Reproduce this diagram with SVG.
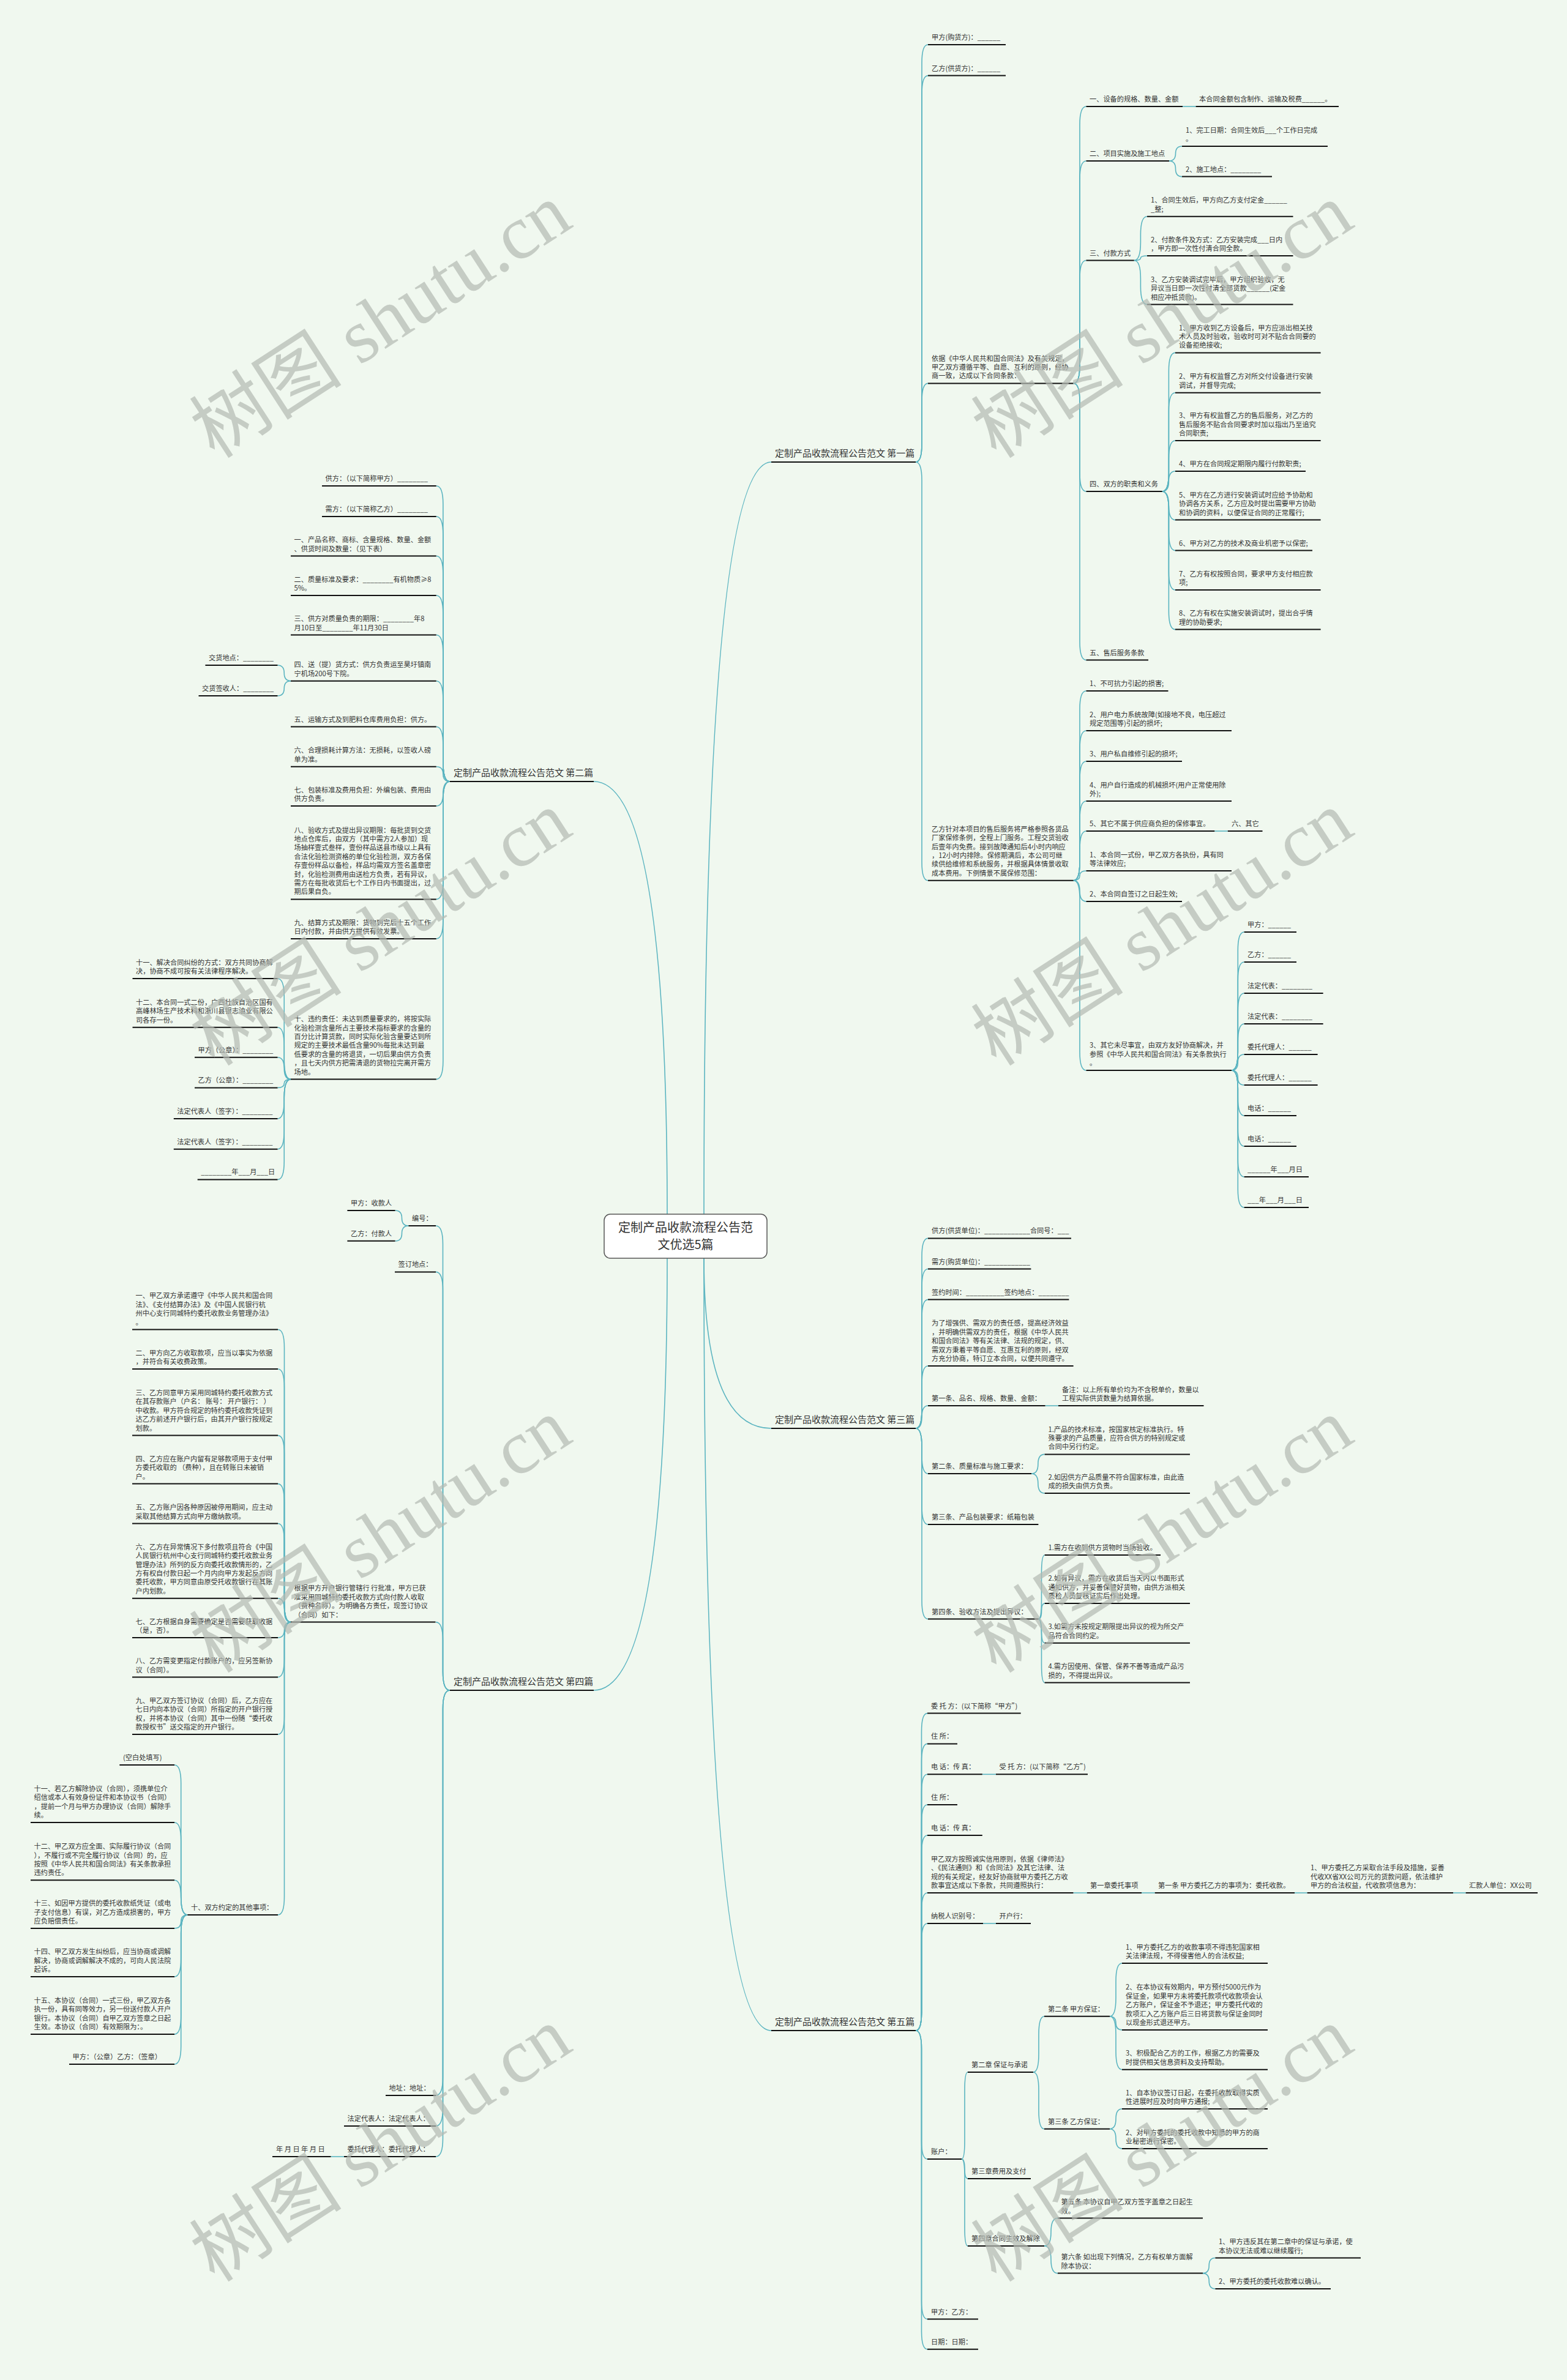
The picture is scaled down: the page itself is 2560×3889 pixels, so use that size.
<svg xmlns="http://www.w3.org/2000/svg" width="2560" height="3889" viewBox="0 0 2560 3889">
<style>
.t{font-family:"Noto Sans CJK SC","Noto Sans",sans-serif;font-size:11.2px;fill:#333}
.l1{font-family:"Noto Sans CJK SC","Noto Sans",sans-serif;font-size:15px;fill:#333}
.ct{font-family:"Noto Sans CJK SC","Noto Sans",sans-serif;font-size:20px;fill:#333}
.u{stroke:#111;stroke-width:2;fill:none}
.c{stroke:#5ab4c0;stroke-width:1.6;fill:none}
.wm{font-family:"Liberation Serif","Noto Sans CJK SC",serif;font-size:125px;fill:#b4bab3;opacity:0.7}
</style>
<rect x="0" y="0" width="2560" height="3889" fill="#f0f8ef"/>
<g id="connectors">
<path class="c" d="M1150 1984 Q1150 755 1260 755"/>
<path class="c" d="M1090 1984 Q1090 1277 970 1277"/>
<path class="c" d="M1150 2056 Q1150 2334 1260 2334"/>
<path class="c" d="M1090 2056 Q1090 2762 970 2762"/>
<path class="c" d="M1150 2056 Q1150 3318 1260 3318"/>
<path class="c" d="M1496 755 Q1506 755 1506 725 L1506 103 Q1506 73 1516 73"/>
<path class="c" d="M1496 755 Q1506 755 1506 725 L1506 153.6 Q1506 123.6 1516 123.6"/>
<path class="c" d="M1496 755 Q1506 755 1506 725 L1506 656.4 Q1506 626.4 1516 626.4"/>
<path class="c" d="M1496 755 Q1506 755 1506 785 L1506 1408.7 Q1506 1438.7 1516 1438.7"/>
<path class="c" d="M1753.6 626.4 Q1764 626.4 1764 596.4 L1764 204 Q1764 174 1774.5 174"/>
<path class="c" d="M1753.6 626.4 Q1764 626.4 1764 596.4 L1764 293 Q1764 263 1774.5 263"/>
<path class="c" d="M1753.6 626.4 Q1764 626.4 1764 596.4 L1764 455.5 Q1764 425.5 1774.5 425.5"/>
<path class="c" d="M1753.6 626.4 Q1764 626.4 1764 656.4 L1764 773 Q1764 803 1774.5 803"/>
<path class="c" d="M1753.6 626.4 Q1764 626.4 1764 656.4 L1764 1048.6 Q1764 1078.6 1774.5 1078.6"/>
<path class="c" d="M1932 174 H1953.6"/>
<path class="c" d="M1910 263 Q1920.5 263 1920.5 251 Q1920.5 239 1931 239"/>
<path class="c" d="M1910 263 Q1920.5 263 1920.5 275.8 Q1920.5 288.6 1931 288.6"/>
<path class="c" d="M1852.7 425.5 Q1863.4 425.5 1863.4 395.5 L1863.4 383.8 Q1863.4 353.8 1874 353.8"/>
<path class="c" d="M1852.7 425.5 Q1863.4 425.5 1863.4 421.75 Q1863.4 418 1874 418"/>
<path class="c" d="M1852.7 425.5 Q1863.4 425.5 1863.4 455.5 L1863.4 467.5 Q1863.4 497.5 1874 497.5"/>
<path class="c" d="M1898.7 803 Q1909.4 803 1909.4 773 L1909.4 606.4 Q1909.4 576.4 1920 576.4"/>
<path class="c" d="M1898.7 803 Q1909.4 803 1909.4 773 L1909.4 671.8 Q1909.4 641.8 1920 641.8"/>
<path class="c" d="M1898.7 803 Q1909.4 803 1909.4 773 L1909.4 750 Q1909.4 720 1920 720"/>
<path class="c" d="M1898.7 803 Q1909.4 803 1909.4 786.5 Q1909.4 770 1920 770"/>
<path class="c" d="M1898.7 803 Q1909.4 803 1909.4 826.3 Q1909.4 849.6 1920 849.6"/>
<path class="c" d="M1898.7 803 Q1909.4 803 1909.4 833 L1909.4 869.6 Q1909.4 899.6 1920 899.6"/>
<path class="c" d="M1898.7 803 Q1909.4 803 1909.4 833 L1909.4 934 Q1909.4 964 1920 964"/>
<path class="c" d="M1898.7 803 Q1909.4 803 1909.4 833 L1909.4 998.6 Q1909.4 1028.6 1920 1028.6"/>
<path class="c" d="M1753.6 1438.7 Q1764 1438.7 1764 1408.7 L1764 1159 Q1764 1129 1774.5 1129"/>
<path class="c" d="M1753.6 1438.7 Q1764 1438.7 1764 1408.7 L1764 1224 Q1764 1194 1774.5 1194"/>
<path class="c" d="M1753.6 1438.7 Q1764 1438.7 1764 1408.7 L1764 1274 Q1764 1244 1774.5 1244"/>
<path class="c" d="M1753.6 1438.7 Q1764 1438.7 1764 1408.7 L1764 1339 Q1764 1309 1774.5 1309"/>
<path class="c" d="M1753.6 1438.7 Q1764 1438.7 1764 1408.7 L1764 1388 Q1764 1358 1774.5 1358"/>
<path class="c" d="M1753.6 1438.7 Q1764 1438.7 1764 1430.85 Q1764 1423 1774.5 1423"/>
<path class="c" d="M1753.6 1438.7 Q1764 1438.7 1764 1455.85 Q1764 1473 1774.5 1473"/>
<path class="c" d="M1753.6 1438.7 Q1764 1438.7 1764 1468.7 L1764 1719 Q1764 1749 1774.5 1749"/>
<path class="c" d="M1984.3 1358 H2005.8"/>
<path class="c" d="M2012 1749 Q2022.3 1749 2022.3 1719 L2022.3 1553 Q2022.3 1523 2032.6 1523"/>
<path class="c" d="M2012 1749 Q2022.3 1749 2022.3 1719 L2022.3 1602 Q2022.3 1572 2032.6 1572"/>
<path class="c" d="M2012 1749 Q2022.3 1749 2022.3 1719 L2022.3 1653 Q2022.3 1623 2032.6 1623"/>
<path class="c" d="M2012 1749 Q2022.3 1749 2022.3 1719 L2022.3 1703 Q2022.3 1673 2032.6 1673"/>
<path class="c" d="M2012 1749 Q2022.3 1749 2022.3 1736 Q2022.3 1723 2032.6 1723"/>
<path class="c" d="M2012 1749 Q2022.3 1749 2022.3 1761 Q2022.3 1773 2032.6 1773"/>
<path class="c" d="M2012 1749 Q2022.3 1749 2022.3 1779 L2022.3 1793 Q2022.3 1823 2032.6 1823"/>
<path class="c" d="M2012 1749 Q2022.3 1749 2022.3 1779 L2022.3 1843 Q2022.3 1873 2032.6 1873"/>
<path class="c" d="M2012 1749 Q2022.3 1749 2022.3 1779 L2022.3 1893 Q2022.3 1923 2032.6 1923"/>
<path class="c" d="M2012 1749 Q2022.3 1749 2022.3 1779 L2022.3 1943 Q2022.3 1973 2032.6 1973"/>
<path class="c" d="M735 1277 Q723.85 1277 723.85 1247 L723.85 824 Q723.85 794 712.7 794"/>
<path class="c" d="M735 1277 Q723.85 1277 723.85 1247 L723.85 874 Q723.85 844 712.7 844"/>
<path class="c" d="M735 1277 Q723.85 1277 723.85 1247 L723.85 938.5 Q723.85 908.5 712.7 908.5"/>
<path class="c" d="M735 1277 Q723.85 1277 723.85 1247 L723.85 1003 Q723.85 973 712.7 973"/>
<path class="c" d="M735 1277 Q723.85 1277 723.85 1247 L723.85 1067.5 Q723.85 1037.5 712.7 1037.5"/>
<path class="c" d="M735 1277 Q723.85 1277 723.85 1247 L723.85 1142.7 Q723.85 1112.7 712.7 1112.7"/>
<path class="c" d="M735 1277 Q723.85 1277 723.85 1247 L723.85 1217.5 Q723.85 1187.5 712.7 1187.5"/>
<path class="c" d="M735 1277 Q723.85 1277 723.85 1264.85 Q723.85 1252.7 712.7 1252.7"/>
<path class="c" d="M735 1277 Q723.85 1277 723.85 1297 Q723.85 1317 712.7 1317"/>
<path class="c" d="M735 1277 Q723.85 1277 723.85 1307 L723.85 1439.4 Q723.85 1469.4 712.7 1469.4"/>
<path class="c" d="M735 1277 Q723.85 1277 723.85 1307 L723.85 1504 Q723.85 1534 712.7 1534"/>
<path class="c" d="M735 1277 Q723.85 1277 723.85 1307 L723.85 1733.6 Q723.85 1763.6 712.7 1763.6"/>
<path class="c" d="M475 1112.7 Q464.25 1112.7 464.25 1099.85 Q464.25 1087 453.5 1087"/>
<path class="c" d="M475 1112.7 Q464.25 1112.7 464.25 1124.85 Q464.25 1137 453.5 1137"/>
<path class="c" d="M475 1763.6 Q464.25 1763.6 464.25 1733.6 L464.25 1629 Q464.25 1599 453.5 1599"/>
<path class="c" d="M475 1763.6 Q464.25 1763.6 464.25 1733.6 L464.25 1708.7 Q464.25 1678.7 453.5 1678.7"/>
<path class="c" d="M475 1763.6 Q464.25 1763.6 464.25 1745.65 Q464.25 1727.7 453.5 1727.7"/>
<path class="c" d="M475 1763.6 Q464.25 1763.6 464.25 1770.5 Q464.25 1777.4 453.5 1777.4"/>
<path class="c" d="M475 1763.6 Q464.25 1763.6 464.25 1793.6 L464.25 1798 Q464.25 1828 453.5 1828"/>
<path class="c" d="M475 1763.6 Q464.25 1763.6 464.25 1793.6 L464.25 1847.7 Q464.25 1877.7 453.5 1877.7"/>
<path class="c" d="M475 1763.6 Q464.25 1763.6 464.25 1793.6 L464.25 1897.4 Q464.25 1927.4 453.5 1927.4"/>
<path class="c" d="M1496 2334 Q1506 2334 1506 2304 L1506 2053.4 Q1506 2023.4 1516 2023.4"/>
<path class="c" d="M1496 2334 Q1506 2334 1506 2304 L1506 2103.5 Q1506 2073.5 1516 2073.5"/>
<path class="c" d="M1496 2334 Q1506 2334 1506 2304 L1506 2153.6 Q1506 2123.6 1516 2123.6"/>
<path class="c" d="M1496 2334 Q1506 2334 1506 2304 L1506 2262 Q1506 2232 1516 2232"/>
<path class="c" d="M1496 2334 Q1506 2334 1506 2315.5 Q1506 2297 1516 2297"/>
<path class="c" d="M1496 2334 Q1506 2334 1506 2364 L1506 2378 Q1506 2408 1516 2408"/>
<path class="c" d="M1496 2334 Q1506 2334 1506 2364 L1506 2461 Q1506 2491 1516 2491"/>
<path class="c" d="M1496 2334 Q1506 2334 1506 2364 L1506 2615.5 Q1506 2645.5 1516 2645.5"/>
<path class="c" d="M1707.6 2297 H1729"/>
<path class="c" d="M1685 2408 Q1695.85 2408 1695.85 2392.2 Q1695.85 2376.4 1706.7 2376.4"/>
<path class="c" d="M1685 2408 Q1695.85 2408 1695.85 2424 Q1695.85 2440 1706.7 2440"/>
<path class="c" d="M1696.4 2645.5 Q1701.5 2645.5 1701.5 2615.5 L1701.5 2571 Q1701.5 2541 1706.7 2541"/>
<path class="c" d="M1696.4 2645.5 Q1701.5 2645.5 1701.5 2632.75 Q1701.5 2620 1706.7 2620"/>
<path class="c" d="M1696.4 2645.5 Q1701.5 2645.5 1701.5 2665.1 Q1701.5 2684.7 1706.7 2684.7"/>
<path class="c" d="M1696.4 2645.5 Q1701.5 2645.5 1701.5 2675.5 L1701.5 2719.6 Q1701.5 2749.6 1706.7 2749.6"/>
<path class="c" d="M735 2762 Q723.5 2762 723.5 2732 L723.5 2033 Q723.5 2003 712 2003"/>
<path class="c" d="M735 2762 Q723.5 2762 723.5 2732 L723.5 2108.4 Q723.5 2078.4 712 2078.4"/>
<path class="c" d="M735 2762 Q723.5 2762 723.5 2732 L723.5 2680.6 Q723.5 2650.6 712 2650.6"/>
<path class="c" d="M735 2762 Q723.5 2762 723.5 2792 L723.5 3394 Q723.5 3424 712 3424"/>
<path class="c" d="M735 2762 Q723.5 2762 723.5 2792 L723.5 3444 Q723.5 3474 712 3474"/>
<path class="c" d="M735 2762 Q723.5 2762 723.5 2792 L723.5 3494 Q723.5 3524 712 3524"/>
<path class="c" d="M667.4 2003 Q656.5 2003 656.5 1990.5 Q656.5 1978 645.6 1978"/>
<path class="c" d="M667.4 2003 Q656.5 2003 656.5 2015.4 Q656.5 2027.8 645.6 2027.8"/>
<path class="c" d="M475 2650.6 Q464.5 2650.6 464.5 2620.6 L464.5 2202.5 Q464.5 2172.5 454 2172.5"/>
<path class="c" d="M475 2650.6 Q464.5 2650.6 464.5 2620.6 L464.5 2267 Q464.5 2237 454 2237"/>
<path class="c" d="M475 2650.6 Q464.5 2650.6 464.5 2620.6 L464.5 2375.6 Q464.5 2345.6 454 2345.6"/>
<path class="c" d="M475 2650.6 Q464.5 2650.6 464.5 2620.6 L464.5 2454.6 Q464.5 2424.6 454 2424.6"/>
<path class="c" d="M475 2650.6 Q464.5 2650.6 464.5 2620.6 L464.5 2519.5 Q464.5 2489.5 454 2489.5"/>
<path class="c" d="M475 2650.6 Q464.5 2650.6 464.5 2631.15 Q464.5 2611.7 454 2611.7"/>
<path class="c" d="M475 2650.6 Q464.5 2650.6 464.5 2663.3 Q464.5 2676 454 2676"/>
<path class="c" d="M475 2650.6 Q464.5 2650.6 464.5 2680.6 L464.5 2710.5 Q464.5 2740.5 454 2740.5"/>
<path class="c" d="M475 2650.6 Q464.5 2650.6 464.5 2680.6 L464.5 2804 Q464.5 2834 454 2834"/>
<path class="c" d="M475 2650.6 Q464.5 2650.6 464.5 2680.6 L464.5 3099 Q464.5 3129 454 3129"/>
<path class="c" d="M306.4 3129 Q295.7 3129 295.7 3099 L295.7 2914 Q295.7 2884 285 2884"/>
<path class="c" d="M306.4 3129 Q295.7 3129 295.7 3099 L295.7 3008 Q295.7 2978 285 2978"/>
<path class="c" d="M306.4 3129 Q295.7 3129 295.7 3100.65 Q295.7 3072.3 285 3072.3"/>
<path class="c" d="M306.4 3129 Q295.7 3129 295.7 3140 Q295.7 3151 285 3151"/>
<path class="c" d="M306.4 3129 Q295.7 3129 295.7 3159 L295.7 3200 Q295.7 3230 285 3230"/>
<path class="c" d="M306.4 3129 Q295.7 3129 295.7 3159 L295.7 3294 Q295.7 3324 285 3324"/>
<path class="c" d="M306.4 3129 Q295.7 3129 295.7 3159 L295.7 3343 Q295.7 3373 285 3373"/>
<path class="c" d="M562 3524 H540.5"/>
<path class="c" d="M1496 3318 Q1505.5 3318 1505.5 3288 L1505.5 2829.6 Q1505.5 2799.6 1515 2799.6"/>
<path class="c" d="M1496 3318 Q1505.5 3318 1505.5 3288 L1505.5 2879.4 Q1505.5 2849.4 1515 2849.4"/>
<path class="c" d="M1496 3318 Q1505.5 3318 1505.5 3288 L1505.5 2929.3 Q1505.5 2899.3 1515 2899.3"/>
<path class="c" d="M1496 3318 Q1505.5 3318 1505.5 3288 L1505.5 2979 Q1505.5 2949 1515 2949"/>
<path class="c" d="M1496 3318 Q1505.5 3318 1505.5 3288 L1505.5 3029 Q1505.5 2999 1515 2999"/>
<path class="c" d="M1496 3318 Q1505.5 3318 1505.5 3288 L1505.5 3123 Q1505.5 3093 1515 3093"/>
<path class="c" d="M1496 3318 Q1505.5 3318 1505.5 3288 L1505.5 3173 Q1505.5 3143 1515 3143"/>
<path class="c" d="M1496 3318 Q1505.5 3318 1505.5 3348 L1505.5 3498 Q1505.5 3528 1515 3528"/>
<path class="c" d="M1496 3318 Q1505.5 3318 1505.5 3348 L1505.5 3759.5 Q1505.5 3789.5 1515 3789.5"/>
<path class="c" d="M1496 3318 Q1505.5 3318 1505.5 3348 L1505.5 3808.7 Q1505.5 3838.7 1515 3838.7"/>
<path class="c" d="M1604.8 2899.3 H1627"/>
<path class="c" d="M1753.5 3093 H1775.8"/>
<path class="c" d="M1865 3093 H1886.7"/>
<path class="c" d="M2115 3093 H2135.6"/>
<path class="c" d="M2374 3093 H2394.6"/>
<path class="c" d="M1606 3143 H1627"/>
<path class="c" d="M1571 3528 Q1576 3528 1576 3498 L1576 3416 Q1576 3386 1581 3386"/>
<path class="c" d="M1571 3528 Q1576 3528 1576 3544 Q1576 3560 1581 3560"/>
<path class="c" d="M1571 3528 Q1576 3528 1576 3558 L1576 3640 Q1576 3670 1581 3670"/>
<path class="c" d="M1688 3386 Q1697 3386 1697 3356 L1697 3324.7 Q1697 3294.7 1706 3294.7"/>
<path class="c" d="M1688 3386 Q1697 3386 1697 3416 L1697 3448.7 Q1697 3478.7 1706 3478.7"/>
<path class="c" d="M1813 3294.7 Q1823 3294.7 1823 3264.7 L1823 3238 Q1823 3208 1833 3208"/>
<path class="c" d="M1813 3294.7 Q1823 3294.7 1823 3305.8 Q1823 3316.9 1833 3316.9"/>
<path class="c" d="M1813 3294.7 Q1823 3294.7 1823 3324.7 L1823 3351.7 Q1823 3381.7 1833 3381.7"/>
<path class="c" d="M1813 3478.7 Q1823 3478.7 1823 3462.35 Q1823 3446 1833 3446"/>
<path class="c" d="M1813 3478.7 Q1823 3478.7 1823 3494.8 Q1823 3510.9 1833 3510.9"/>
<path class="c" d="M1706 3670 Q1717 3670 1717 3647.25 Q1717 3624.5 1728 3624.5"/>
<path class="c" d="M1706 3670 Q1717 3670 1717 3692.3 Q1717 3714.6 1728 3714.6"/>
<path class="c" d="M1965 3714.6 Q1975.2 3714.6 1975.2 3702.05 Q1975.2 3689.5 1985.4 3689.5"/>
<path class="c" d="M1965 3714.6 Q1975.2 3714.6 1975.2 3727.3 Q1975.2 3740 1985.4 3740"/>
</g>
<g id="center"><rect x="987" y="1984" width="266" height="72" rx="10" fill="#ffffff" stroke="#555" stroke-width="1.5"/><text class="ct" text-anchor="middle"><tspan x="1120" y="2013">定制产品收款流程公告范</tspan><tspan x="1120" y="2041">文优选5篇</tspan></text></g>
<g id="b1"><text class="l1" x="1266" y="746">定制产品收款流程公告范文 第一篇</text><path class="u" d="M1260 755 H1496"/></g>
<g id="b1a"><text class="t" x="1522" y="65">甲方(购货方)：______</text><path class="u" d="M1516 73 H1643"/></g>
<g id="b1b"><text class="t" x="1522" y="115.6">乙方(供货方)：______</text><path class="u" d="M1516 123.6 H1643"/></g>
<g id="b1c"><text class="t"><tspan x="1522" y="589.6">依据《中华人民共和国合同法》及有关规定，</tspan><tspan x="1522" y="604">甲乙双方遵循平等、自愿、互利的原则，经协</tspan><tspan x="1522" y="618.4">商一致，达成以下合同条款：</tspan></text><path class="u" d="M1516 626.4 H1753.6"/></g>
<g id="c1"><text class="t" x="1780" y="166">一、设备的规格、数量、金额</text><path class="u" d="M1774.5 174 H1932"/></g>
<g id="c1a"><text class="t" x="1959" y="166">本合同金额包含制作、运输及税费______。</text><path class="u" d="M1953.6 174 H2187"/></g>
<g id="c2"><text class="t" x="1780" y="255">二、项目实施及施工地点</text><path class="u" d="M1774.5 263 H1910"/></g>
<g id="c2a"><text class="t"><tspan x="1937" y="216.6">1、完工日期：合同生效后___个工作日完成</tspan><tspan x="1937" y="231">。</tspan></text><path class="u" d="M1931 239 H2169"/></g>
<g id="c2b"><text class="t" x="1937" y="280.6">2、施工地点：________</text><path class="u" d="M1931 288.6 H2078"/></g>
<g id="c3"><text class="t" x="1780" y="417.5">三、付款方式</text><path class="u" d="M1774.5 425.5 H1852.7"/></g>
<g id="c3a"><text class="t"><tspan x="1880" y="331.4">1、合同生效后，甲方向乙方支付定金______</tspan><tspan x="1880" y="345.8">_整;</tspan></text><path class="u" d="M1874 353.8 H2112.5"/></g>
<g id="c3b"><text class="t"><tspan x="1880" y="395.6">2、付款条件及方式：乙方安装完成___日内</tspan><tspan x="1880" y="410">，甲方即一次性付清合同全款。</tspan></text><path class="u" d="M1874 418 H2112.5"/></g>
<g id="c3c"><text class="t"><tspan x="1880" y="460.7">3、乙方安装调试完毕后，甲方组织验收，无</tspan><tspan x="1880" y="475.1">异议当日即一次性付清全部货款______(定金</tspan><tspan x="1880" y="489.5">相应冲抵货款)。</tspan></text><path class="u" d="M1874 497.5 H2112.5"/></g>
<g id="c4"><text class="t" x="1780" y="795">四、双方的职责和义务</text><path class="u" d="M1774.5 803 H1898.7"/></g>
<g id="c4a"><text class="t"><tspan x="1926" y="539.6">1、甲方收到乙方设备后，甲方应派出相关技</tspan><tspan x="1926" y="554">术人员及时验收，验收时可对不贴合合同要的</tspan><tspan x="1926" y="568.4">设备拒绝接收;</tspan></text><path class="u" d="M1920 576.4 H2157.6"/></g>
<g id="c4b"><text class="t"><tspan x="1926" y="619.4">2、甲方有权监督乙方对所交付设备进行安装</tspan><tspan x="1926" y="633.8">调试，并督导完成;</tspan></text><path class="u" d="M1920 641.8 H2157.6"/></g>
<g id="c4c"><text class="t"><tspan x="1926" y="683.2">3、甲方有权监督乙方的售后服务，对乙方的</tspan><tspan x="1926" y="697.6">售后服务不贴合合同要求时加以指出乃至追究</tspan><tspan x="1926" y="712">合同职责;</tspan></text><path class="u" d="M1920 720 H2157.6"/></g>
<g id="c4d"><text class="t" x="1926" y="762">4、甲方在合同规定期限内履行付款职责;</text><path class="u" d="M1920 770 H2133"/></g>
<g id="c4e"><text class="t"><tspan x="1926" y="812.8">5、甲方在乙方进行安装调试时应给予协助和</tspan><tspan x="1926" y="827.2">协调各方关系，乙方应及时提出需要甲方协助</tspan><tspan x="1926" y="841.6">和协调的资料，以便保证合同的正常履行;</tspan></text><path class="u" d="M1920 849.6 H2157.6"/></g>
<g id="c4f"><text class="t" x="1926" y="891.6">6、甲方对乙方的技术及商业机密予以保密;</text><path class="u" d="M1920 899.6 H2144"/></g>
<g id="c4g"><text class="t"><tspan x="1926" y="941.6">7、乙方有权按照合同，要求甲方支付相应款</tspan><tspan x="1926" y="956">项;</tspan></text><path class="u" d="M1920 964 H2157.6"/></g>
<g id="c4h"><text class="t"><tspan x="1926" y="1006.2">8、乙方有权在实施安装调试时，提出合乎情</tspan><tspan x="1926" y="1020.6">理的协助要求;</tspan></text><path class="u" d="M1920 1028.6 H2157.6"/></g>
<g id="c5"><text class="t" x="1780" y="1070.6">五、售后服务条款</text><path class="u" d="M1774.5 1078.6 H1876"/></g>
<g id="b1d"><text class="t"><tspan x="1522" y="1358.7">乙方针对本项目的售后服务将严格参照各货品</tspan><tspan x="1522" y="1373.1">厂家保修条例，全程上门服务。工程交货验收</tspan><tspan x="1522" y="1387.5">后壹年内免费。接到故障通知后4小时内响应</tspan><tspan x="1522" y="1401.9">，12小时内排除。保修期满后，本公司可继</tspan><tspan x="1522" y="1416.3">续供给维修和系统服务，并根据具体情景收取</tspan><tspan x="1522" y="1430.7">成本费用。下例情景不属保修范围：</tspan></text><path class="u" d="M1516 1438.7 H1753.6"/></g>
<g id="d1"><text class="t" x="1780" y="1121">1、不可抗力引起的损害;</text><path class="u" d="M1774.5 1129 H1908.5"/></g>
<g id="d2"><text class="t"><tspan x="1780" y="1171.6">2、用户电力系统故障(如接地不良，电压超过</tspan><tspan x="1780" y="1186">规定范围等)引起的损坏;</tspan></text><path class="u" d="M1774.5 1194 H2012"/></g>
<g id="d3"><text class="t" x="1780" y="1236">3、用户私自维修引起的损坏;</text><path class="u" d="M1774.5 1244 H1931"/></g>
<g id="d4"><text class="t"><tspan x="1780" y="1286.6">4、用户自行造成的机械损坏(用户正常使用除</tspan><tspan x="1780" y="1301">外);</tspan></text><path class="u" d="M1774.5 1309 H2012"/></g>
<g id="d5"><text class="t" x="1780" y="1350">5、其它不属于供应商负担的保修事宜。</text><path class="u" d="M1774.5 1358 H1984.3"/></g>
<g id="d5a"><text class="t" x="2012" y="1350">六、其它</text><path class="u" d="M2005.8 1358 H2062.5"/></g>
<g id="d6"><text class="t"><tspan x="1780" y="1400.6">1、本合同一式份，甲乙双方各执份，具有同</tspan><tspan x="1780" y="1415">等法律效应;</tspan></text><path class="u" d="M1774.5 1423 H2012"/></g>
<g id="d7"><text class="t" x="1780" y="1465">2、本合同自签订之日起生效;</text><path class="u" d="M1774.5 1473 H1931"/></g>
<g id="d8"><text class="t"><tspan x="1780" y="1712.2">3、其它未尽事宜，由双方友好协商解决，并</tspan><tspan x="1780" y="1726.6">参照《中华人民共和国合同法》有关条款执行</tspan><tspan x="1780" y="1741">。</tspan></text><path class="u" d="M1774.5 1749 H2012"/></g>
<g id="s1"><text class="t" x="2038" y="1515">甲方：______</text><path class="u" d="M2032.6 1523 H2118"/></g>
<g id="s2"><text class="t" x="2038" y="1564">乙方：______</text><path class="u" d="M2032.6 1572 H2118"/></g>
<g id="s3"><text class="t" x="2038" y="1615">法定代表：________</text><path class="u" d="M2032.6 1623 H2161.6"/></g>
<g id="s4"><text class="t" x="2038" y="1665">法定代表：________</text><path class="u" d="M2032.6 1673 H2161.6"/></g>
<g id="s5"><text class="t" x="2038" y="1715">委托代理人：______</text><path class="u" d="M2032.6 1723 H2152.6"/></g>
<g id="s6"><text class="t" x="2038" y="1765">委托代理人：______</text><path class="u" d="M2032.6 1773 H2152.6"/></g>
<g id="s7"><text class="t" x="2038" y="1815">电话：______</text><path class="u" d="M2032.6 1823 H2118"/></g>
<g id="s8"><text class="t" x="2038" y="1865">电话：______</text><path class="u" d="M2032.6 1873 H2118"/></g>
<g id="s9"><text class="t" x="2038" y="1915">______年___月日</text><path class="u" d="M2032.6 1923 H2138"/></g>
<g id="s10"><text class="t" x="2038" y="1965">___年___月___日</text><path class="u" d="M2032.6 1973 H2138"/></g>
<g id="b2"><text class="l1" x="741" y="1268">定制产品收款流程公告范文 第二篇</text><path class="u" d="M735 1277 H970"/></g>
<g id="e1"><text class="t" x="531.5" y="786">供方：（以下简称甲方）________</text><path class="u" d="M526 794 H712.7"/></g>
<g id="e2"><text class="t" x="531.5" y="836">需方：（以下简称乙方）________</text><path class="u" d="M526 844 H712.7"/></g>
<g id="e3"><text class="t"><tspan x="480.5" y="886.1">一、产品名称、商标、含量规格、数量、金额</tspan><tspan x="480.5" y="900.5">、供货时间及数量：（见下表）</tspan></text><path class="u" d="M475 908.5 H712.7"/></g>
<g id="e4"><text class="t"><tspan x="480.5" y="950.6">二、质量标准及要求：________有机物质≥8</tspan><tspan x="480.5" y="965">5%。</tspan></text><path class="u" d="M475 973 H712.7"/></g>
<g id="e5"><text class="t"><tspan x="480.5" y="1015.1">三、供方对质量负责的期限：________年8</tspan><tspan x="480.5" y="1029.5">月10日至________年11月30日</tspan></text><path class="u" d="M475 1037.5 H712.7"/></g>
<g id="e6"><text class="t"><tspan x="480.5" y="1090.3">四、送（提）货方式：供方负责运至昊圩镇南</tspan><tspan x="480.5" y="1104.7">宁机场200号下院。</tspan></text><path class="u" d="M475 1112.7 H712.7"/></g>
<g id="e6a"><text class="t" x="341" y="1079">交货地点：________</text><path class="u" d="M335.4 1087 H453.5"/></g>
<g id="e6b"><text class="t" x="330" y="1129">交货签收人：________</text><path class="u" d="M324.5 1137 H453.5"/></g>
<g id="e7"><text class="t" x="480.5" y="1179.5">五、运输方式及到肥料仓库费用负担：供方。</text><path class="u" d="M475 1187.5 H712.7"/></g>
<g id="e8"><text class="t"><tspan x="480.5" y="1230.3">六、合理损耗计算方法：无损耗，以签收人磅</tspan><tspan x="480.5" y="1244.7">单为准。</tspan></text><path class="u" d="M475 1252.7 H712.7"/></g>
<g id="e9"><text class="t"><tspan x="480.5" y="1294.6">七、包装标准及费用负担：外编包装、费用由</tspan><tspan x="480.5" y="1309">供方负责。</tspan></text><path class="u" d="M475 1317 H712.7"/></g>
<g id="e10"><text class="t"><tspan x="480.5" y="1360.6">八、验收方式及提出异议期限：每批货到交货</tspan><tspan x="480.5" y="1375">地点仓库后，由双方（其中需方2人参加）现</tspan><tspan x="480.5" y="1389.4">场抽样壹式叁样，壹份样品送县市级以上具有</tspan><tspan x="480.5" y="1403.8">合法化验检测资格的单位化验检测，双方各保</tspan><tspan x="480.5" y="1418.2">存壹份样品以备检，样品均需双方签名盖章密</tspan><tspan x="480.5" y="1432.6">封，化验检测费用由送检方负责，若有异议，</tspan><tspan x="480.5" y="1447">需方在每批收货后七个工作日内书面提出，过</tspan><tspan x="480.5" y="1461.4">期后果自负。</tspan></text><path class="u" d="M475 1469.4 H712.7"/></g>
<g id="e11"><text class="t"><tspan x="480.5" y="1511.6">九、结算方式及期限：货物到完后十五个工作</tspan><tspan x="480.5" y="1526">日内付款，并由供方提供有效发票。</tspan></text><path class="u" d="M475 1534 H712.7"/></g>
<g id="e12"><text class="t"><tspan x="480.5" y="1669.2">十、违约责任：未达到质量要求的，将按实际</tspan><tspan x="480.5" y="1683.6">化验检测含量所占主要技术指标要求的含量的</tspan><tspan x="480.5" y="1698">百分比计算货款，同时实际化验含量要达到所</tspan><tspan x="480.5" y="1712.4">规定的主要技术最低含量90%每批未达到最</tspan><tspan x="480.5" y="1726.8">低要求的含量的将退货，一切后果由供方负责</tspan><tspan x="480.5" y="1741.2">，且七天内供方把需清退的货物拉完离开需方</tspan><tspan x="480.5" y="1755.6">场地。</tspan></text><path class="u" d="M475 1763.6 H712.7"/></g>
<g id="f1"><text class="t"><tspan x="222" y="1576.6">十一、解决合同纠纷的方式：双方共同协商解</tspan><tspan x="222" y="1591">决，协商不成可按有关法律程序解决。</tspan></text><path class="u" d="M216.5 1599 H453.5"/></g>
<g id="f2"><text class="t"><tspan x="222" y="1641.9">十二、本合同一式二份，广西壮族自治区国有</tspan><tspan x="222" y="1656.3">高峰林场生产技术科和浙川县银志油业有限公</tspan><tspan x="222" y="1670.7">司各存一份。</tspan></text><path class="u" d="M216.5 1678.7 H453.5"/></g>
<g id="f3"><text class="t" x="323.5" y="1719.7">甲方（公章）：________</text><path class="u" d="M318 1727.7 H453.5"/></g>
<g id="f4"><text class="t" x="323.5" y="1769.4">乙方（公章）：________</text><path class="u" d="M318 1777.4 H453.5"/></g>
<g id="f5"><text class="t" x="289.3" y="1820">法定代表人（签字）：________</text><path class="u" d="M283.8 1828 H453.5"/></g>
<g id="f6"><text class="t" x="289.3" y="1869.7">法定代表人（签字）：________</text><path class="u" d="M283.8 1877.7 H453.5"/></g>
<g id="f7"><text class="t" x="328.2" y="1919.4">________年___月___日</text><path class="u" d="M322.7 1927.4 H453.5"/></g>
<g id="b3"><text class="l1" x="1266" y="2325">定制产品收款流程公告范文 第三篇</text><path class="u" d="M1260 2334 H1496"/></g>
<g id="g1"><text class="t" x="1522" y="2015.4">供方(供货单位)：____________合同号：___</text><path class="u" d="M1516 2023.4 H1750"/></g>
<g id="g2"><text class="t" x="1522" y="2065.5">需方(购货单位)：____________</text><path class="u" d="M1516 2073.5 H1684.4"/></g>
<g id="g3"><text class="t" x="1522" y="2115.6">签约时间：__________签约地点：________</text><path class="u" d="M1516 2123.6 H1746.4"/></g>
<g id="g4"><text class="t"><tspan x="1522" y="2166.4">为了增强供、需双方的责任感，提高经济效益</tspan><tspan x="1522" y="2180.8">，并明确供需双方的责任，根据《中华人民共</tspan><tspan x="1522" y="2195.2">和国合同法》等有关法律、法规的规定，供、</tspan><tspan x="1522" y="2209.6">需双方秉着平等自愿、互惠互利的原则，经双</tspan><tspan x="1522" y="2224">方充分协商，特订立本合同，以便共同遵守。</tspan></text><path class="u" d="M1516 2232 H1753.6"/></g>
<g id="g5"><text class="t" x="1522" y="2289">第一条、品名、规格、数量、金额：</text><path class="u" d="M1516 2297 H1707.6"/></g>
<g id="g5a"><text class="t"><tspan x="1735" y="2274.6">备注：以上所有单价均为不含税单价，数量以</tspan><tspan x="1735" y="2289">工程实际供货数量为结算依据。</tspan></text><path class="u" d="M1729 2297 H1966.5"/></g>
<g id="g6"><text class="t" x="1522" y="2400">第二条、质量标准与施工要求：</text><path class="u" d="M1516 2408 H1685"/></g>
<g id="g6a"><text class="t"><tspan x="1712.5" y="2339.6">1.产品的技术标准，按国家核定标准执行。特</tspan><tspan x="1712.5" y="2354">殊要求的产品质量，应符合供方的特别规定或</tspan><tspan x="1712.5" y="2368.4">合同中另行约定。</tspan></text><path class="u" d="M1706.7 2376.4 H1944"/></g>
<g id="g6b"><text class="t"><tspan x="1712.5" y="2417.6">2.如因供方产品质量不符合国家标准，由此造</tspan><tspan x="1712.5" y="2432">成的损失由供方负责。</tspan></text><path class="u" d="M1706.7 2440 H1944"/></g>
<g id="g7"><text class="t" x="1522" y="2483">第三条、产品包装要求：纸箱包装</text><path class="u" d="M1516 2491 H1696.4"/></g>
<g id="g8"><text class="t" x="1522" y="2637.5">第四条、验收方法及提出异议：</text><path class="u" d="M1516 2645.5 H1696.4"/></g>
<g id="g8a"><text class="t" x="1712.5" y="2533">1.需方在收到供方货物时当场验收。</text><path class="u" d="M1706.7 2541 H1896"/></g>
<g id="g8b"><text class="t"><tspan x="1712.5" y="2583.2">2.如有异议，需方在收货后当天内以书面形式</tspan><tspan x="1712.5" y="2597.6">通知供方，并妥善保管好货物，由供方派相关</tspan><tspan x="1712.5" y="2612">质检人员复核证实后作出处理。</tspan></text><path class="u" d="M1706.7 2620 H1944"/></g>
<g id="g8c"><text class="t"><tspan x="1712.5" y="2662.3">3.如需方未按规定期限提出异议的视为所交产</tspan><tspan x="1712.5" y="2676.7">品符合合同约定。</tspan></text><path class="u" d="M1706.7 2684.7 H1944"/></g>
<g id="g8d"><text class="t"><tspan x="1712.5" y="2727.2">4.需方因使用、保管、保养不善等造成产品污</tspan><tspan x="1712.5" y="2741.6">损的，不得提出异议。</tspan></text><path class="u" d="M1706.7 2749.6 H1944"/></g>
<g id="b4"><text class="l1" x="741" y="2753">定制产品收款流程公告范文 第四篇</text><path class="u" d="M735 2762 H970"/></g>
<g id="h1"><text class="t" x="673" y="1995">编号：</text><path class="u" d="M667.4 2003 H712"/></g>
<g id="h1a"><text class="t" x="573" y="1970">甲方：收款人</text><path class="u" d="M567.4 1978 H645.6"/></g>
<g id="h1b"><text class="t" x="573" y="2019.8">乙方：付款人</text><path class="u" d="M567.4 2027.8 H645.6"/></g>
<g id="h2"><text class="t" x="650.5" y="2070.4">签订地点：</text><path class="u" d="M645 2078.4 H712"/></g>
<g id="h3"><text class="t"><tspan x="480.5" y="2599.4">根据甲方开户银行管辖行 行批准，甲方已获</tspan><tspan x="480.5" y="2613.8">准采用同城特约委托收款方式向付款人收取</tspan><tspan x="480.5" y="2628.2">（费种名称）。为明确各方责任，现签订协议</tspan><tspan x="480.5" y="2642.6">（合同）如下：</tspan></text><path class="u" d="M475 2650.6 H711.5"/></g>
<g id="i1"><text class="t"><tspan x="221.5" y="2121.3">一、甲乙双方承诺遵守《中华人民共和国合同</tspan><tspan x="221.5" y="2135.7">法》、《支付结算办法》及《中国人民银行杭</tspan><tspan x="221.5" y="2150.1">州中心支行同城特约委托收款业务管理办法》</tspan><tspan x="221.5" y="2164.5">。</tspan></text><path class="u" d="M216 2172.5 H454"/></g>
<g id="i2"><text class="t"><tspan x="221.5" y="2214.6">二、甲方向乙方收取款项，应当以事实为依据</tspan><tspan x="221.5" y="2229">，并符合有关收费政策。</tspan></text><path class="u" d="M216 2237 H454"/></g>
<g id="i3"><text class="t"><tspan x="221.5" y="2280">三、乙方同意甲方采用同城特约委托收款方式</tspan><tspan x="221.5" y="2294.4">在其存款账户（户名：  账号：  开户银行：  ）</tspan><tspan x="221.5" y="2308.8">中收款。甲方符合规定的特约委托收款凭证到</tspan><tspan x="221.5" y="2323.2">达乙方前述开户银行后，由其开户银行按规定</tspan><tspan x="221.5" y="2337.6">划款。</tspan></text><path class="u" d="M216 2345.6 H454"/></g>
<g id="i4"><text class="t"><tspan x="221.5" y="2387.8">四、乙方应在账户内留有足够款项用于支付甲</tspan><tspan x="221.5" y="2402.2">方委托收取的 （费种），且在转账日未被销</tspan><tspan x="221.5" y="2416.6">户。</tspan></text><path class="u" d="M216 2424.6 H454"/></g>
<g id="i5"><text class="t"><tspan x="221.5" y="2467.1">五、乙方账户因各种原因被停用期间，应主动</tspan><tspan x="221.5" y="2481.5">采取其他结算方式向甲方缴纳款项。</tspan></text><path class="u" d="M216 2489.5 H454"/></g>
<g id="i6"><text class="t"><tspan x="221.5" y="2531.7">六、乙方在异常情况下多付款项且符合《中国</tspan><tspan x="221.5" y="2546.1">人民银行杭州中心支行同城特约委托收款业务</tspan><tspan x="221.5" y="2560.5">管理办法》所列的反方向委托收款情形的，乙</tspan><tspan x="221.5" y="2574.9">方有权自付款日起一个月内向甲方发起反方向</tspan><tspan x="221.5" y="2589.3">委托收款，甲方同意由原受托收款银行在其账</tspan><tspan x="221.5" y="2603.7">户内划款。</tspan></text><path class="u" d="M216 2611.7 H454"/></g>
<g id="i7"><text class="t"><tspan x="221.5" y="2653.6">七、乙方根据自身需要确定是否需要获取收据</tspan><tspan x="221.5" y="2668">（是，否）。</tspan></text><path class="u" d="M216 2676 H454"/></g>
<g id="i8"><text class="t"><tspan x="221.5" y="2718.1">八、乙方需变更指定付款账户的，应另签新协</tspan><tspan x="221.5" y="2732.5">议（合同）。</tspan></text><path class="u" d="M216 2740.5 H454"/></g>
<g id="i9"><text class="t"><tspan x="221.5" y="2782.8">九、甲乙双方签订协议（合同）后，乙方应在</tspan><tspan x="221.5" y="2797.2">七日内向本协议（合同）所指定的开户银行授</tspan><tspan x="221.5" y="2811.6">权，并将本协议（合同）其中一份随“委托收</tspan><tspan x="221.5" y="2826">款授权书”送交指定的开户银行。</tspan></text><path class="u" d="M216 2834 H454"/></g>
<g id="i10"><text class="t" x="312" y="3121">十、双方约定的其他事项：</text><path class="u" d="M306.4 3129 H454"/></g>
<g id="j1"><text class="t" x="201" y="2876">(空白处填写)</text><path class="u" d="M195.3 2884 H285"/></g>
<g id="j2"><text class="t"><tspan x="55.5" y="2926.8">十一、若乙方解除协议（合同），须携单位介</tspan><tspan x="55.5" y="2941.2">绍信或本人有效身份证件和本协议书（合同）</tspan><tspan x="55.5" y="2955.6">，提前一个月与甲方办理协议（合同）解除手</tspan><tspan x="55.5" y="2970">续。</tspan></text><path class="u" d="M50 2978 H285"/></g>
<g id="j3"><text class="t"><tspan x="55.5" y="3021.1">十二、甲乙双方应全面、实际履行协议（合同</tspan><tspan x="55.5" y="3035.5">），不履行或不完全履行协议（合同）的，应</tspan><tspan x="55.5" y="3049.9">按照《中华人民共和国合同法》有关条款承担</tspan><tspan x="55.5" y="3064.3">违约责任。</tspan></text><path class="u" d="M50 3072.3 H285"/></g>
<g id="j4"><text class="t"><tspan x="55.5" y="3114.2">十三、如因甲方提供的委托收款纸凭证（或电</tspan><tspan x="55.5" y="3128.6">子支付信息）有误，对乙方造成损害的，甲方</tspan><tspan x="55.5" y="3143">应负赔偿责任。</tspan></text><path class="u" d="M50 3151 H285"/></g>
<g id="j5"><text class="t"><tspan x="55.5" y="3193.2">十四、甲乙双方发生纠纷后，应当协商或调解</tspan><tspan x="55.5" y="3207.6">解决，协商或调解解决不成的，可向人民法院</tspan><tspan x="55.5" y="3222">起诉。</tspan></text><path class="u" d="M50 3230 H285"/></g>
<g id="j6"><text class="t"><tspan x="55.5" y="3272.8">十五、本协议（合同）一式三份，甲乙双方各</tspan><tspan x="55.5" y="3287.2">执一份，具有同等效力，另一份送付款人开户</tspan><tspan x="55.5" y="3301.6">银行。本协议（合同）自甲乙双方签章之日起</tspan><tspan x="55.5" y="3316">生效。本协议（合同）有效期限为：。</tspan></text><path class="u" d="M50 3324 H285"/></g>
<g id="j7"><text class="t" x="118.5" y="3365">甲方：（公章）乙方：（签章）</text><path class="u" d="M113 3373 H285"/></g>
<g id="h4"><text class="t" x="635.5" y="3416">地址：地址：</text><path class="u" d="M630 3424 H712"/></g>
<g id="h5"><text class="t" x="567.5" y="3466">法定代表人：法定代表人：</text><path class="u" d="M562 3474 H712"/></g>
<g id="h6"><text class="t" x="567.5" y="3516">委托代理人：委托代理人：</text><path class="u" d="M562 3524 H712"/></g>
<g id="h6a"><text class="t" x="451" y="3516">年 月 日 年 月 日</text><path class="u" d="M445 3524 H540.5"/></g>
<g id="b5"><text class="l1" x="1266" y="3309">定制产品收款流程公告范文 第五篇</text><path class="u" d="M1260 3318 H1496"/></g>
<g id="k1"><text class="t" x="1521" y="2791.6">委 托 方：(以下简称“甲方”)</text><path class="u" d="M1515 2799.6 H1667.7"/></g>
<g id="k2"><text class="t" x="1521" y="2841.4">住 所：</text><path class="u" d="M1515 2849.4 H1564"/></g>
<g id="k3"><text class="t" x="1521" y="2891.3">电 话：传 真：</text><path class="u" d="M1515 2899.3 H1604.8"/></g>
<g id="k3a"><text class="t" x="1632.5" y="2891.3">受 托 方：(以下简称“乙方”)</text><path class="u" d="M1627 2899.3 H1777"/></g>
<g id="k4"><text class="t" x="1521" y="2941">住 所：</text><path class="u" d="M1515 2949 H1564"/></g>
<g id="k5"><text class="t" x="1521" y="2991">电 话：传 真：</text><path class="u" d="M1515 2999 H1604.8"/></g>
<g id="k6"><text class="t"><tspan x="1521" y="3041.8">甲乙双方按照诚实信用原则，依据《律师法》</tspan><tspan x="1521" y="3056.2">、《民法通则》和《合同法》及其它法律、法</tspan><tspan x="1521" y="3070.6">规的有关规定，经友好协商就甲方委托乙方收</tspan><tspan x="1521" y="3085">款事宜达成以下条款，共同遵照执行：</tspan></text><path class="u" d="M1515 3093 H1753.5"/></g>
<g id="k6a"><text class="t" x="1781" y="3085">第一章委托事项</text><path class="u" d="M1775.8 3093 H1865"/></g>
<g id="k6b"><text class="t" x="1892" y="3085">第一条 甲方委托乙方的事项为：委托收款。</text><path class="u" d="M1886.7 3093 H2115"/></g>
<g id="k6c"><text class="t"><tspan x="2141" y="3056.2">1、甲方委托乙方采取合法手段及措施，妥善</tspan><tspan x="2141" y="3070.6">代收XX省XX公司万元的货款问题，依法维护</tspan><tspan x="2141" y="3085">甲方的合法权益，代收款项信息为：</tspan></text><path class="u" d="M2135.6 3093 H2374"/></g>
<g id="k6d"><text class="t" x="2400" y="3085">汇款人单位：XX公司</text><path class="u" d="M2394.6 3093 H2512"/></g>
<g id="k7"><text class="t" x="1521" y="3135">纳税人识别号：</text><path class="u" d="M1515 3143 H1606"/></g>
<g id="k7a"><text class="t" x="1632.5" y="3135">开户行：</text><path class="u" d="M1627 3143 H1684"/></g>
<g id="k8"><text class="t" x="1521" y="3520">账户：</text><path class="u" d="M1515 3528 H1571"/></g>
<g id="m1"><text class="t" x="1587" y="3378">第二章 保证与承诺</text><path class="u" d="M1581 3386 H1688"/></g>
<g id="m1a"><text class="t" x="1712" y="3286.7">第二条 甲方保证：</text><path class="u" d="M1706 3294.7 H1813"/></g>
<g id="m1a1"><text class="t"><tspan x="1839" y="3185.6">1、甲方委托乙方的收款事项不得违犯国家相</tspan><tspan x="1839" y="3200">关法律法规，不得侵害他人的合法权益;</tspan></text><path class="u" d="M1833 3208 H2071"/></g>
<g id="m1a2"><text class="t"><tspan x="1839" y="3251.3">2、在本协议有效期内，甲方预付5000元作为</tspan><tspan x="1839" y="3265.7">保证金，如果甲方未将委托款项代收款项会认</tspan><tspan x="1839" y="3280.1">乙方账户，保证金不予退还；甲方委托代收的</tspan><tspan x="1839" y="3294.5">款项汇入乙方账户后三日将货款与保证金同时</tspan><tspan x="1839" y="3308.9">以现金形式退还甲方。</tspan></text><path class="u" d="M1833 3316.9 H2071"/></g>
<g id="m1a3"><text class="t"><tspan x="1839" y="3359.3">3、积极配合乙方的工作，根据乙方的需要及</tspan><tspan x="1839" y="3373.7">时提供相关信息资料及支持帮助。</tspan></text><path class="u" d="M1833 3381.7 H2071"/></g>
<g id="m1b"><text class="t" x="1712" y="3470.7">第三条 乙方保证：</text><path class="u" d="M1706 3478.7 H1813"/></g>
<g id="m1b1"><text class="t"><tspan x="1839" y="3423.6">1、自本协议签订日起，在委托收款取得实质</tspan><tspan x="1839" y="3438">性进展时应及时向甲方通报;</tspan></text><path class="u" d="M1833 3446 H2071"/></g>
<g id="m1b2"><text class="t"><tspan x="1839" y="3488.5">2、对甲方委托的委托收款中知悉的甲方的商</tspan><tspan x="1839" y="3502.9">业秘密进行保密。</tspan></text><path class="u" d="M1833 3510.9 H2071"/></g>
<g id="m2"><text class="t" x="1587" y="3552">第三章费用及支付</text><path class="u" d="M1581 3560 H1684"/></g>
<g id="m3"><text class="t" x="1587" y="3662">第四章合同生效及解除</text><path class="u" d="M1581 3670 H1706"/></g>
<g id="m3a"><text class="t"><tspan x="1733.5" y="3602.1">第五条 本协议自甲乙双方签字盖章之日起生</tspan><tspan x="1733.5" y="3616.5">效。</tspan></text><path class="u" d="M1728 3624.5 H1965"/></g>
<g id="m3b"><text class="t"><tspan x="1733.5" y="3692.2">第六条 如出现下列情况，乙方有权单方面解</tspan><tspan x="1733.5" y="3706.6">除本协议：</tspan></text><path class="u" d="M1728 3714.6 H1965"/></g>
<g id="n1"><text class="t"><tspan x="1991" y="3667.1">1、甲方违反其在第二章中的保证与承诺，使</tspan><tspan x="1991" y="3681.5">本协议无法或难以继续履行;</tspan></text><path class="u" d="M1985.4 3689.5 H2223"/></g>
<g id="n2"><text class="t" x="1991" y="3732">2、甲方委托的委托收款难以确认。</text><path class="u" d="M1985.4 3740 H2174"/></g>
<g id="k9"><text class="t" x="1521" y="3781.5">甲方：乙方：</text><path class="u" d="M1515 3789.5 H1598"/></g>
<g id="k10"><text class="t" x="1521" y="3830.7">日期：日期：</text><path class="u" d="M1515 3838.7 H1598"/></g>
<g id="watermarks">
<text class="wm" text-anchor="middle" transform="translate(645 560) rotate(-33)">树图 shutu.cn</text>
<text class="wm" text-anchor="middle" transform="translate(1922 560) rotate(-33)">树图 shutu.cn</text>
<text class="wm" text-anchor="middle" transform="translate(645 1553) rotate(-33)">树图 shutu.cn</text>
<text class="wm" text-anchor="middle" transform="translate(1922 1553) rotate(-33)">树图 shutu.cn</text>
<text class="wm" text-anchor="middle" transform="translate(645 2545) rotate(-33)">树图 shutu.cn</text>
<text class="wm" text-anchor="middle" transform="translate(1922 2545) rotate(-33)">树图 shutu.cn</text>
<text class="wm" text-anchor="middle" transform="translate(645 3540) rotate(-33)">树图 shutu.cn</text>
<text class="wm" text-anchor="middle" transform="translate(1922 3540) rotate(-33)">树图 shutu.cn</text>
</g>
</svg>
